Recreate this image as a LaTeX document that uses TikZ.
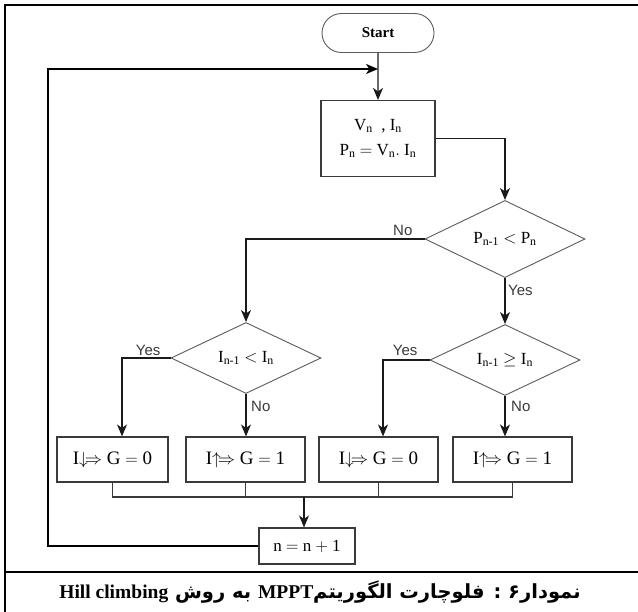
\documentclass[tikz,border=0pt]{standalone}
\usepackage{fontspec}
\setmainfont{Liberation Serif}
\setsansfont{Liberation Sans}
\newfontfamily\farsifont[Script=Arabic]{DejaVu Sans}
\TeXXeTstate=1
\usetikzlibrary{arrows.meta,positioning,shapes.geometric,shapes.misc,calc}
\definecolor{colLine}{HTML}{1A1A1A}
\definecolor{colEdge}{HTML}{3A3A3A}
\definecolor{colDiam}{HTML}{5A5A5A}
\tikzset{
  block/.style={
    draw=colEdge, line width=1.1pt,
    align=center, inner sep=3pt,
    font=\fontsize{17}{20}\selectfont
  },
  process/.style ={block, minimum width=119pt, minimum height=45pt, font=\fontsize{19}{22}\selectfont},
  terminal/.style={block, rounded rectangle, draw=colDiam, line width=0.9pt,
    minimum width=118pt, minimum height=39pt, font=\bfseries\fontsize{15}{18}\selectfont},
  decision/.style={diamond, draw=colDiam, line width=0.9pt, inner sep=0pt,
    minimum width=150pt, minimum height=71pt, font=\fontsize{17}{20}\selectfont},
  answer/.style  ={font=\sffamily\fontsize{15}{17}\selectfont, inner sep=1pt, text=colEdge},
  mainarr/.style ={
    -{Stealth[length=12pt,width=10pt,inset=3.5pt]},
    line width=1.4pt, draw=colLine
  },
  plainln/.style ={line width=1.3pt, draw=colEdge},
  looparr/.style ={mainarr, line width=2pt, draw=black},
  frameln/.style ={line width=2.6pt, draw=black}
}
\newcommand{\sbs}[2]{#1\textsubscript{#2}}

\begin{document}
\begin{tikzpicture}[x=1pt, y=1pt]
    \useasboundingbox (0,0) rectangle (638,-612);

    % frame and caption rule
    \draw[frameln] (5,-612) -- (5,-5) -- (638,-5);
    \draw[frameln] (5,-572) -- (638,-572);

    \node[terminal] (start) at (378,-33) {Start};
    \node[block, minimum width=114pt, minimum height=76pt, below=47pt of start] (meas)
      {\sbs{V}{n}\ \ , \sbs{I}{n}\\[5pt] \sbs{P}{n} $=$ \sbs{V}{n}$.$ \sbs{I}{n}};
    \node[decision, minimum width=160pt, minimum height=72pt] (dec1) at (505,-239) {\sbs{P}{n-1} $<$ \sbs{P}{n}};
    \node[decision] (dec2) at (246,-358) {\sbs{I}{n-1} $<$ \sbs{I}{n}};
    \node[decision] (dec3) at (505,-360) {\sbs{I}{n-1} $\geq$ \sbs{I}{n}};

    \node[process, minimum width=111pt] (decA) at (112.5,-459.5) {I$\downarrow\!\Rightarrow$ G $=$ 0};
    \node[process] (incA) at (245.5,-459.5) {I$\uparrow\!\Rightarrow$ G $=$ 1};
    \node[process] (decB) at (378.5,-459.5) {I$\downarrow\!\Rightarrow$ G $=$ 0};
    \node[process] (incB) at (512.5,-459.5) {I$\uparrow\!\Rightarrow$ G $=$ 1};
    \node[block, minimum width=96pt, minimum height=36pt] (incr) at (307,-546) {n $=$ n $+$ 1};

    \coordinate (bus) at (304,-497);
    \coordinate (ret) at (48,-69);
    \coordinate (merge) at (378,-69);

    % answers
    \node[answer, above left=2pt and 11pt of dec1.west] {No};
    \node[answer, below right=6pt and 2pt of dec1.south] {Yes};
    \node[answer, above left=1pt and 9pt of dec2.west] {Yes};
    \node[answer, below right=6pt and 4pt of dec2.south] {No};
    \node[answer, above left=3pt and 11pt of dec3.west] {Yes};
    \node[answer, below right=4pt and 5pt of dec3.south] {No};

    \draw[mainarr] (start) -- (meas);
    \draw[mainarr] (meas.east) -| (dec1.north);
    \draw[mainarr] (dec1.west) -| (dec2.north);
    \draw[mainarr] (dec1.south) -- (dec3.north);
    \draw[mainarr] (dec2.west) -| ($(decA.north)+(9.5,0)$);
    \draw[mainarr] (dec2.south) -- (dec2.south |- incA.north);
    \draw[mainarr] (dec3.west) -| ($(decB.north)+(4.5,0)$);
    \draw[mainarr] (dec3.south) -- (dec3.south |- incB.north);

    \draw[plainln] (decA.south) |- (incB.south |- bus) -- (incB.south);
    \draw[plainln] (incA.south) -- (incA.south |- bus);
    \draw[plainln] (decB.south) -- (decB.south |- bus);
    \draw[mainarr] (bus) -- (bus |- incr.north);

    \draw[looparr] (incr.west) -| (ret) -- (merge);

    \node[font=\bfseries\fontsize{19.5}{22}\selectfont] (caption) at (320,-592)
      {\farsifont\beginR نمودار۶ : فلوچارت الگوریتم{\rmfamily\beginL MPPT\endL} به روش {\rmfamily\beginL Hill climbing\endL}\endR};
\end{tikzpicture}
\end{document}
